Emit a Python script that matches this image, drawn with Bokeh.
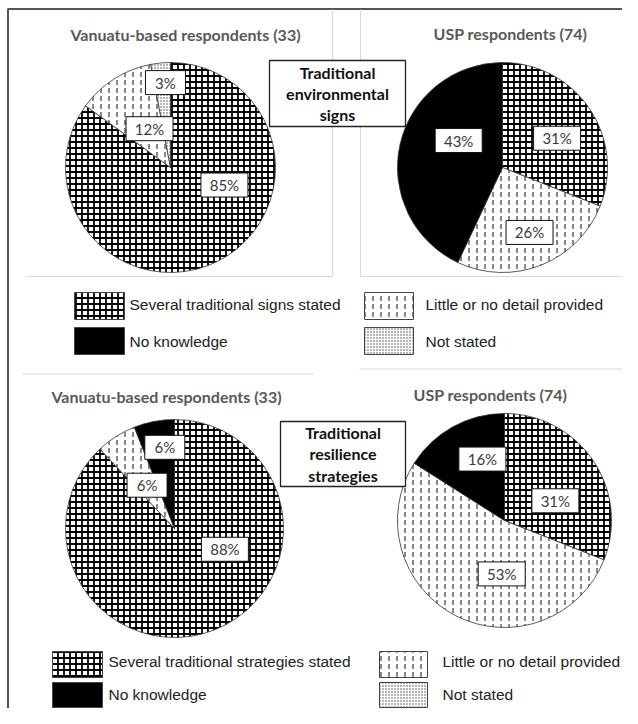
import math
from bokeh.plotting import figure
from bokeh.models import Range1d, ColumnDataSource
from bokeh.core.properties import value
from bokeh.embed import file_html
from bokeh.resources import INLINE

# ---------------- data ----------------
categories_top = ["Several traditional signs stated", "Little or no detail provided",
                  "No knowledge", "Not stated"]
categories_bottom = ["Several traditional strategies stated", "Little or no detail provided",
                     "No knowledge", "Not stated"]
pie_titles = ["Vanuatu-based respondents (33)", "USP respondents (74)"]
section_titles = ["Traditional\nenvironmental\nsigns", "Traditional\nresilience\nstrategies"]

env_vanuatu = [85, 12, 0, 3]
env_usp = [31, 26, 43, 0]
res_vanuatu = [88, 6, 6, 0]
res_usp = [31, 53, 16, 0]

# ---------------- layout (image pixel coordinates) ----------------
W, H = 622, 708


def Y(v):
    return H - v


pies = [
    dict(vals=env_vanuatu, cx=170, cy=167, r=105, title=pie_titles[0], tx=185, ty=34,
         nudge=[(-45, 0.54), (4, 0.42), None, (2, 0.81)]),
    dict(vals=env_usp, cx=502, cy=167, r=105, title=pie_titles[1], tx=510, ty=33,
         nudge=[(6, 0.59), (-1, 0.67), (19, 0.49), None]),
    dict(vals=res_vanuatu, cx=174, cy=528, r=109, title=pie_titles[0], tx=166, ty=396,
         nudge=[(-46, 0.50), (0, 0.47), (4, 0.75), None]),
    dict(vals=res_usp, cx=504, cy=520, r=107, title=pie_titles[1], tx=490, ty=394,
         nudge=[(13, 0.51), (-24, 0.50), (9, 0.61), None]),
]

styles = [
    dict(fill_color="white", hatch_pattern="cross", hatch_scale=6, hatch_color="black",
         hatch_weight=1.8),
    dict(fill_color="white", hatch_pattern="vertical_dash", hatch_scale=8, hatch_color="#111111",
         hatch_weight=1),
    dict(fill_color="black"),
    dict(fill_color="white", hatch_pattern="dot", hatch_scale=3, hatch_color="#444444",
         hatch_weight=0.8),
]

p = figure(width=W, height=H, x_range=Range1d(0, W), y_range=Range1d(0, H),
           output_backend="svg", toolbar_location=None, x_axis_type=None, y_axis_type=None,
           min_border=0)
p.grid.visible = False
p.outline_line_color = None
p.background_fill_color = "white"

# frame and panel separators
p.segment(x0=[7.5, 7.5], y0=[Y(8), Y(8.5)], x1=[7.5, 640], y1=[Y(724), Y(8.5)],
          line_color="#555555", line_width=2)
p.segment(x0=[332, 360, 25, 360, 22, 359],
          y0=[Y(9), Y(9), Y(276), Y(276), Y(373.5), Y(368.5)],
          x1=[332, 360, 332, 640, 313, 629],
          y1=[Y(276), Y(276), Y(276), Y(276), Y(373.5), Y(368.5)],
          line_color="#d9d9d9", line_width=1)

# wedges
for k in range(4):
    rows = dict(x=[], y=[], r=[], s=[], e=[])
    for pie in pies:
        vals = pie["vals"]
        tot = float(sum(vals))
        a = sum(vals[:k]) / tot
        b = a + vals[k] / tot
        if vals[k] <= 0:
            continue
        rows["x"].append(pie["cx"])
        rows["y"].append(Y(pie["cy"]))
        rows["r"].append(pie["r"])
        rows["s"].append(math.pi / 2 - 2 * math.pi * b)
        rows["e"].append(math.pi / 2 - 2 * math.pi * a)
    p.wedge(x="x", y="y", radius="r", start_angle="s", end_angle="e",
            source=ColumnDataSource(rows), line_color="#333333", line_width=0.8, **styles[k])

# data labels
lx, ly, lt, lw = [], [], [], []
for pie in pies:
    vals = pie["vals"]
    tot = float(sum(vals))
    for k in range(4):
        if vals[k] <= 0:
            continue
        a = sum(vals[:k]) / tot
        m = a + vals[k] / tot / 2
        dang, frac = pie["nudge"][k]
        th = math.radians(360 * m + dang)
        x = pie["cx"] + frac * pie["r"] * math.sin(th)
        yy = pie["cy"] - frac * pie["r"] * math.cos(th)
        txt = f"{vals[k]}%"
        lx.append(x); ly.append(Y(yy)); lt.append(txt); lw.append(26 + 7 * len(txt))
lsrc = ColumnDataSource(dict(x=lx, y=ly, t=lt, w=lw))
p.rect(x="x", y="y", width="w", height=24, source=lsrc, fill_color="white",
       line_color="#111111", line_width=1)
p.text(x="x", y="y", text="t", source=lsrc, text_align="center", text_baseline="middle",
       text_font=value("Lato"), text_font_size="15px", text_color="#3a3a3a")

# pie titles
p.text(x=[pie["tx"] for pie in pies], y=[Y(pie["ty"]) for pie in pies],
       text=[pie["title"] for pie in pies], text_align="center", text_baseline="middle",
       text_font=value("Lato"), text_font_style="bold", text_font_size="16px",
       text_color="#595959")

# section boxes
bx = [337, 342.5]
by = [93, 453.5]
p.rect(x=bx, y=[Y(v) for v in by], width=[136, 125], height=[66, 65], fill_color="white",
       line_color="#222222", line_width=1.3)
p.text(x=bx, y=[Y(v) for v in by], text=section_titles, text_align="center",
       text_baseline="middle", text_font=value("Lato"), text_font_style="bold",
       text_font_size="16px", text_color="#111111", text_line_height=1.12)

# legends
legends = [
    dict(labels=categories_top, rows=[(292, 319), (327, 354)], cols=[(74, 124, 129), (364, 413, 425)],
         ty=[304, 341]),
    dict(labels=categories_bottom, rows=[(651, 677), (682, 707)], cols=[(52, 102, 108), (379, 427, 442)],
         ty=[661, 694]),
]
order = [(0, 0), (0, 1), (1, 0), (1, 1)]
for leg in legends:
    for k in range(4):
        r, c = order[k]
        x0, x1, tx = leg["cols"][c]
        t0, t1 = leg["rows"][r]
        p.quad(left=[x0], right=[x1], top=[Y(t0)], bottom=[Y(t1)], line_color="#444444",
               line_width=1, **styles[k])
        p.text(x=[tx], y=[Y(leg["ty"][r])], text=[leg["labels"][k]], text_align="left",
               text_baseline="middle", text_font=value("Liberation Sans"),
               text_font_size="15.5px", text_color="#222222")

open("out.html", "w").write(file_html(p, INLINE))
